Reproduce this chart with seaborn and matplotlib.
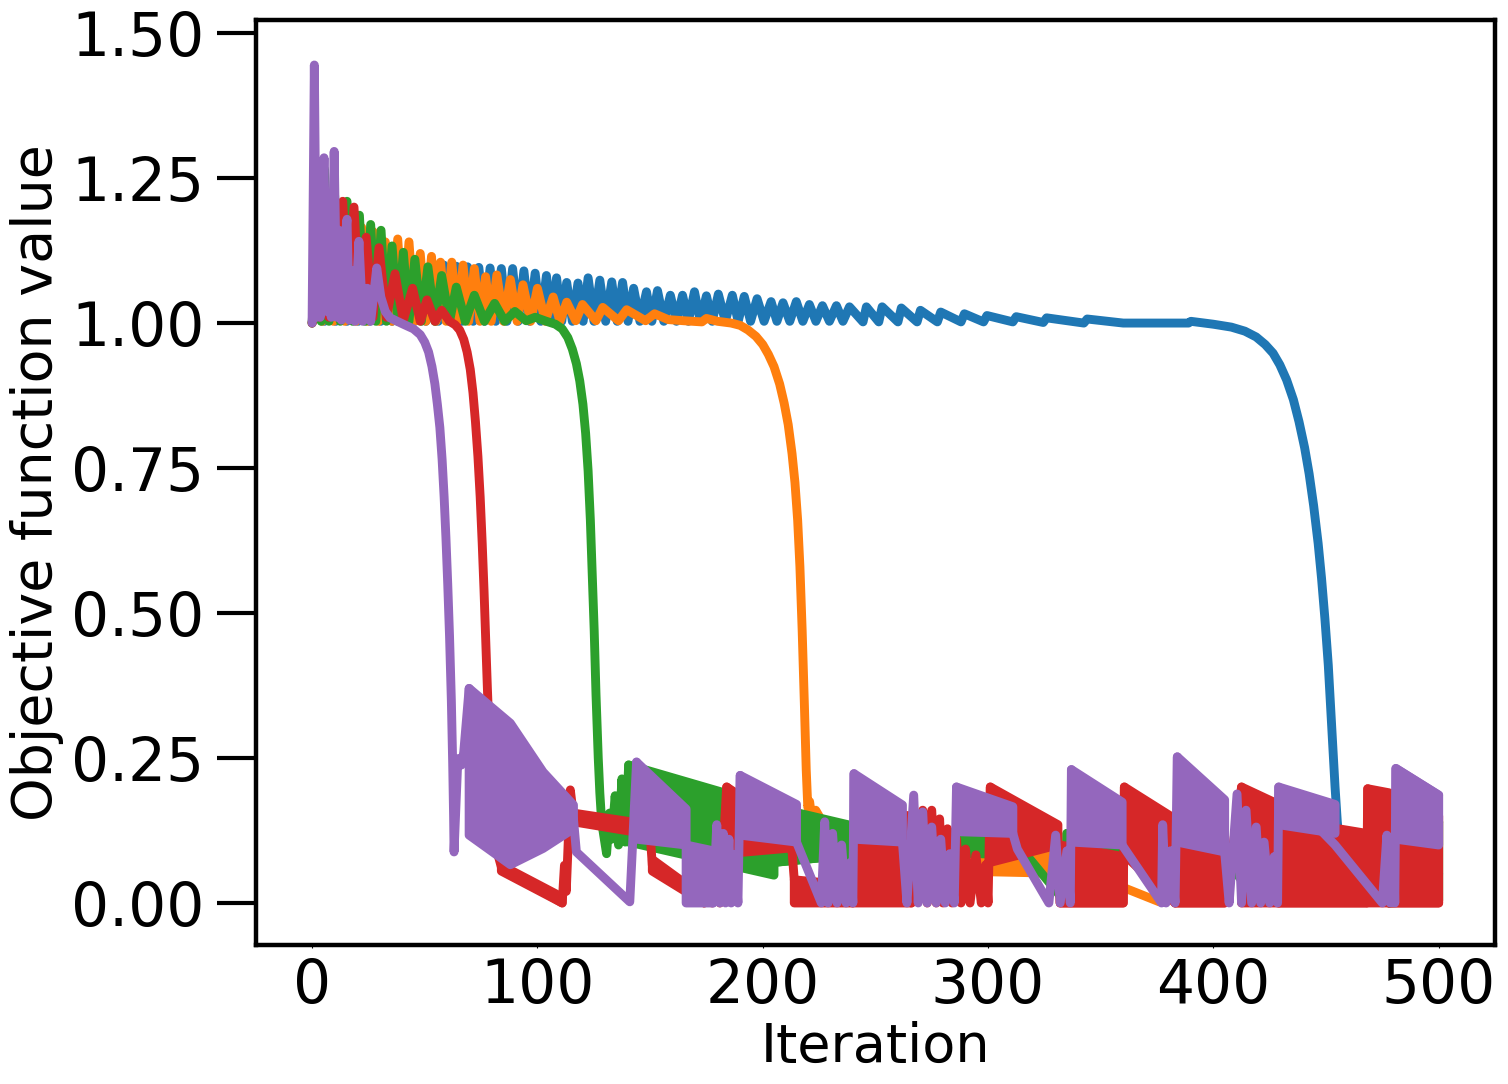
import matplotlib
matplotlib.use("Agg")
import matplotlib.pyplot as plt
import seaborn as sns
import pandas as pd

# ---- data (iteration, objective value) ----
# line vertices per run; the dense period-2 oscillation parts are kept as bands
blue_line = [
    (0, 1.0), (3, 1.10), (5.5, 1.003), (8, 1.115), (10.5, 1.003), (13, 1.115), (15.5, 1.003),
    (18, 1.112), (20.5, 1.003), (23, 1.11), (25.5, 1.003), (28, 1.108), (30.5, 1.003),
    (33, 1.106), (35.5, 1.003), (38, 1.105), (40.5, 1.003), (43, 1.104), (45.5, 1.003),
    (48, 1.103), (50.5, 1.003), (53, 1.102), (56, 1.003), (58.5, 1.10), (61.3, 1.003),
    (64, 1.098), (66.5, 1.003), (69, 1.097), (71.5, 1.003), (74, 1.096), (76.5, 1.003),
    (79, 1.095), (81.5, 1.003), (84, 1.094), (86.5, 1.003), (89, 1.094), (91.5, 1.003),
    (94, 1.09), (96.5, 1.003), (99, 1.086), (101.5, 1.003), (104, 1.082), (106.3, 1.003),
    (108.5, 1.078), (110.8, 1.003), (113, 1.07), (115.5, 1.003), (118, 1.069), (120.3, 1.003),
    (122.5, 1.078), (125.1, 1.003), (127.7, 1.074), (130.3, 1.003), (133, 1.071), (135.4, 1.003),
    (137.8, 1.07), (140.2, 1.003), (142.7, 1.06), (145.5, 1.003), (148.4, 1.054), (150.8, 1.003),
    (153.3, 1.056), (156.1, 1.003), (159, 1.048), (161.7, 1.003), (164.4, 1.048), (167, 1.003),
    (169.7, 1.054), (172.3, 1.003), (175, 1.047), (177.6, 1.003), (180.3, 1.05), (183.4, 1.003),
    (186.5, 1.048), (189.1, 1.003), (191.8, 1.046), (194.6, 1.003), (197.5, 1.042), (200.6, 1.003),
    (203.7, 1.037), (206.3, 1.003), (209, 1.035), (212, 1.003), (214.9, 1.037), (217.8, 1.003),
    (220.7, 1.032), (223.6, 1.003), (226.5, 1.03), (229.6, 1.003), (232.7, 1.03), (235.6, 1.003),
    (238.5, 1.028), (244.5, 1.002), (246, 1.028), (251.5, 1.002), (253, 1.028), (260, 1.002),
    (261.5, 1.026), (268.5, 1.002), (270, 1.022), (277.5, 1.002), (279, 1.019), (288, 1.002),
    (289.5, 1.016), (298, 1.002), (299.5, 1.013), (311, 1.002), (312.5, 1.011), (324.5, 1.001),
    (326, 1.009), (342.5, 1.0), (344, 1.007), (360, 1.0), (389, 1.0), (390, 1.003),
    (400, 0.998), (408, 0.993), (414, 0.986), (419, 0.976), (423, 0.963), (426.5, 0.948),
    (429.5, 0.928), (432.5, 0.902), (435.5, 0.868), (438, 0.83), (440.5, 0.785),
    (442.5, 0.74), (444.5, 0.685), (446.5, 0.62), (448, 0.56), (449.5, 0.49), (451, 0.41),
    (452, 0.34), (453, 0.27), (454, 0.2), (455, 0.14), (455.8, 0.105), (457, 0.05),
    (459, 0.113), (461, 0.045), (463, 0.09), (465, 0.04), (467, 0.075), (468, 0.03),
    (498, 0.02), (500, 0.05),
]
blue_bands = [([468, 498], [0.09, 0.085], [0.025, 0.02])]

orange_line = [
    (0, 1.0), (2.5, 1.06), (4.5, 1.003), (7, 1.14), (9.5, 1.003), (12, 1.17), (14.5, 1.003),
    (17, 1.175), (19.5, 1.003), (22, 1.165), (24.5, 1.003), (27, 1.158), (29.5, 1.003),
    (32.5, 1.14), (35.5, 1.003), (38, 1.145), (40.5, 1.003), (43, 1.14), (45.5, 1.003),
    (48, 1.12), (50.5, 1.003), (53, 1.115), (55, 1.003), (57, 1.105), (59.5, 1.003),
    (62, 1.105), (64.5, 1.003), (67, 1.10), (69.5, 1.003), (72, 1.094), (74.5, 1.003),
    (77, 1.08), (79.5, 1.003), (82, 1.083), (85, 1.003), (88, 1.075), (91, 1.003),
    (93.6, 1.066), (97, 1.003), (100, 1.06), (103.5, 1.003), (107, 1.045), (110, 1.003),
    (113, 1.036), (117, 1.004), (120, 1.032), (126, 1.004), (129, 1.027), (136, 1.004),
    (139.6, 1.023), (148, 1.004), (152, 1.016), (158, 1.006), (165, 1.004), (173, 1.002),
    (175, 1.008), (180, 1.003), (186, 1.0), (190, 0.996), (193.5, 0.988), (197, 0.977),
    (200, 0.963), (202.5, 0.946), (205, 0.925), (207.5, 0.895), (209.5, 0.862),
    (211.3, 0.825), (213, 0.775), (214.3, 0.725), (215.5, 0.66), (216.5, 0.58),
    (217.5, 0.47), (218.5, 0.34), (219.3, 0.23), (220, 0.165), (220.8, 0.175), (222, 0.14),
    (223.5, 0.16), (225, 0.15), (226.5, 0.13), (228, 0.13), (345, 0.05), (376, 0.002),
    (377, 0.1), (470, 0.048), (500, 0.005),
]
orange_bands = [
    ([228, 345], [0.13, 0.085], [0.06, 0.05]),
    ([377, 470], [0.10, 0.075], [0.058, 0.048]),
]

green_line = [
    (0, 1.0), (2.5, 1.15), (4, 1.003), (5.5, 1.265), (7.5, 1.003), (10, 1.22), (12.5, 1.003),
    (15.5, 1.21), (18, 1.003), (21, 1.186), (23.5, 1.003), (26, 1.17), (28.3, 1.003),
    (30.6, 1.16), (33, 1.003), (35.5, 1.133), (38, 1.003), (40.5, 1.122), (43, 1.003),
    (45.6, 1.11), (48.5, 1.003), (51.4, 1.097), (54.5, 1.003), (57.5, 1.082), (61, 1.003),
    (64, 1.062), (68, 1.003), (72, 1.048), (76.5, 1.003), (81, 1.034), (85.5, 1.003),
    (90, 1.02), (95, 1.004), (99, 1.01), (104, 1.003), (108, 0.998), (111, 0.99),
    (113.5, 0.975), (115.5, 0.955), (117.3, 0.93), (118.8, 0.9), (120.2, 0.86),
    (121.4, 0.81), (122.5, 0.745), (123.5, 0.66), (124.3, 0.57), (125.2, 0.47), (126, 0.36),
    (127, 0.25), (127.7, 0.19), (128.5, 0.14), (130.7, 0.085),
    (132, 0.155), (133, 0.11), (134.5, 0.185), (136, 0.10), (137.5, 0.214), (139, 0.105),
    (140.5, 0.238), (205, 0.07), (252, 0.088), (262, 0.012), (263, 0.125), (317, 0.083),
    (334, 0.003), (335, 0.12), (405, 0.075), (420, 0.005), (421, 0.10), (468, 0.08),
    (478, 0.0), (500, 0.14),
]
green_bands = [
    ([140.5, 205], [0.238, 0.165], [0.105, 0.048]),
    ([205, 252], [0.165, 0.122], [0.07, 0.088]),
    ([263, 317], [0.125, 0.115], [0.088, 0.083]),
    ([335, 405], [0.12, 0.10], [0.085, 0.075]),
    ([421, 468], [0.10, 0.095], [0.085, 0.08]),
    ([478, 500], [0.10, 0.14], [0.0, 0.005]),
]

red_line = [
    (0, 1.0), (2, 1.04), (3.5, 1.01), (5.5, 1.10), (7.5, 1.01), (9.5, 1.15), (11.5, 1.01),
    (13.6, 1.21), (16, 1.01), (18.6, 1.20), (21.3, 1.01), (24, 1.148), (27, 1.01),
    (29.7, 1.13), (33, 1.01), (36.8, 1.085), (40.5, 1.005), (44.6, 1.06), (48, 1.003),
    (51, 1.04), (54.5, 1.003), (57.5, 1.022), (61, 1.003), (63.5, 0.997), (65.5, 0.988),
    (67.3, 0.972), (68.8, 0.95), (70.2, 0.92), (71.4, 0.88), (72.5, 0.83), (73.6, 0.77),
    (74.6, 0.7), (75.5, 0.62), (76.3, 0.54), (77, 0.46), (77.8, 0.37), (78.7, 0.28),
    (79.6, 0.2), (80.6, 0.14), (82, 0.09), (84, 0.062), (111, 0.0),
    (112, 0.065), (112.8, 0.02), (114.6, 0.195), (116, 0.15), (150, 0.12), (151, 0.065),
    (174, 0.0), (176, 0.05), (177.5, 0.0), (179.5, 0.06), (181, 0.0), (184, 0.2),
    (213, 0.09), (214, 0.04), (240, 0.0), (241, 0.16), (266, 0.0), (271, 0.16), (273, 0.0),
    (275, 0.16), (277, 0.0), (278.5, 0.145), (280, 0.0), (282, 0.128), (284, 0.0),
    (286, 0.11), (288, 0.0), (290, 0.093), (292, 0.0), (294.6, 0.083), (297, 0.0),
    (299, 0.066), (300, 0.0), (301, 0.2), (331, 0.1), (332, 0.0), (360, 0.0), (360.5, 0.2),
    (383, 0.0), (405, 0.0), (412.5, 0.2), (429, 0.0), (468, 0.0), (468.5, 0.197),
    (478, 0.0), (500, 0.0),
]
red_bands = [
    ([84, 111], [0.065, 0.01], [0.055, 0.0]),
    ([116, 150], [0.155, 0.135], [0.14, 0.118]),
    ([151, 174], [0.075, 0.01], [0.055, 0.0]),
    ([184, 213], [0.2, 0.125], [0.085, 0.095]),
    ([214, 240], [0.04, 0.03], [0.0, 0.0]),
    ([241, 266], [0.16, 0.15], [0.0, 0.0]),
    ([301, 331], [0.2, 0.135], [0.07, 0.1]),
    ([332, 360], [0.1, 0.08], [0.0, 0.0]),
    ([360.5, 383], [0.2, 0.145], [0.083, 0.0]),
    ([383, 405], [0.11, 0.10], [0.0, 0.0]),
    ([412.5, 429], [0.2, 0.17], [0.0, 0.0]),
    ([429, 468], [0.145, 0.12], [0.0, 0.0]),
    ([468.5, 478], [0.197, 0.19], [0.0, 0.0]),
    ([478, 500], [0.186, 0.15], [0.0, 0.0]),
]

purple_line = [
    (0, 1.0), (1, 1.445), (2, 1.01), (2.8, 1.22), (3.6, 1.01), (5.3, 1.285), (6.5, 1.02),
    (7.5, 1.2), (8.5, 1.01), (9.8, 1.296), (11, 1.01), (12, 1.16), (13, 1.005), (14, 1.12),
    (15.5, 1.179), (16.5, 1.005), (17.8, 1.09), (19, 1.003), (20.8, 1.141), (22.5, 1.003),
    (24.5, 1.06), (26, 1.003), (28.7, 1.095),
    (30.5, 1.045), (32.5, 1.02), (34.6, 1.009), (40.5, 0.998), (45, 0.99), (48, 0.98),
    (50, 0.967), (51.7, 0.95), (53.2, 0.925), (54.5, 0.895), (55.6, 0.86), (56.7, 0.82),
    (57.7, 0.765), (58.6, 0.7), (59.4, 0.63), (60.2, 0.55), (61, 0.46), (61.8, 0.35),
    (62.4, 0.24), (62.8, 0.15), (63, 0.088), (64.7, 0.249),
    (66.3, 0.238), (67.3, 0.26), (69.7, 0.37), (116, 0.145), (117.3, 0.088), (141, 0.002),
    (144, 0.243), (166, 0.1), (178, 0.0), (179.6, 0.135), (181, 0.0), (182.5, 0.12),
    (183.5, 0.0), (185, 0.11), (186, 0.0), (187.5, 0.083), (189, 0.0), (190, 0.22),
    (215, 0.105), (226, 0.0), (227.5, 0.14), (229, 0.0), (231, 0.12), (233, 0.0), (235, 0.10),
    (237, 0.0), (239, 0.07), (240, 0.0), (240.5, 0.223), (262, 0.105), (264, 0.0),
    (267, 0.186), (269, 0.0), (271, 0.157), (273, 0.0), (275, 0.131), (277, 0.0),
    (279, 0.11), (281, 0.0), (283, 0.085), (285, 0.0), (286, 0.2), (311, 0.12), (313, 0.093),
    (327, 0.0), (330, 0.117), (332, 0.0), (335, 0.09), (336.5, 0.0), (337, 0.23),
    (359.5, 0.1), (377, 0.0), (377.5, 0.135), (379, 0.0), (381, 0.09), (383, 0.0),
    (384, 0.252), (405, 0.088), (407, 0.0), (410.5, 0.188), (412.5, 0.0), (414.5, 0.16),
    (417, 0.0), (419, 0.131), (421, 0.0), (422.5, 0.105), (425, 0.0), (427, 0.08),
    (428.5, 0.0), (429, 0.2), (454, 0.1), (475, 0.0), (477, 0.117), (478.5, 0.0),
    (480, 0.09), (480.5, 0.0), (481, 0.232), (500, 0.186),
]
purple_bands = [
    ([69.7, 88, 102.5, 116], [0.37, 0.31, 0.226, 0.169], [0.117, 0.066, 0.094, 0.128]),
    ([144, 166], [0.243, 0.162], [0.11, 0.10]),
    ([166, 178], [0.10, 0.09], [0.0, 0.0]),
    ([190, 215], [0.22, 0.17], [0.117, 0.105]),
    ([240.5, 262], [0.223, 0.169], [0.11, 0.105]),
    ([286, 311], [0.2, 0.166], [0.123, 0.12]),
    ([337, 359.5], [0.23, 0.174], [0.105, 0.10]),
    ([384, 405], [0.252, 0.178], [0.105, 0.088]),
    ([429, 454], [0.2, 0.17], [0.135, 0.12]),
    ([481, 500], [0.232, 0.186], [0.11, 0.10]),
]

series = [
    ("run 1", blue_line, blue_bands),
    ("run 2", orange_line, orange_bands),
    ("run 3", green_line, green_bands),
    ("run 4", red_line, red_bands),
    ("run 5", purple_line, purple_bands),
]
colors = sns.color_palette("tab10", 5)

x_ticks = [0, 100, 200, 300, 400, 500]
y_ticks = [0.0, 0.25, 0.5, 0.75, 1.0, 1.25, 1.5]

LW = 6.4


def plot_runs(save_path):
    sns.set_style("ticks", rc={"text.color": "black", "axes.labelcolor": "black",
                               "xtick.color": "black", "ytick.color": "black",
                               "axes.edgecolor": "black"})
    fig = plt.figure(figsize=(15.08, 10.84), dpi=100)
    ax = fig.add_axes([0.1696, 0.1282, 0.8218, 0.8533])

    for i, (name, pts, bands) in enumerate(series):
        df = pd.DataFrame(pts, columns=["Iteration", "Value"])
        z = 2 + i
        sns.lineplot(data=df, x="Iteration", y="Value", sort=False, estimator=None,
                     color=colors[i], linewidth=LW, solid_capstyle="round",
                     solid_joinstyle="round", ax=ax, zorder=z)
        for bx, hi, lo in bands:
            px = list(bx) + list(bx)[::-1]
            py = list(hi) + list(lo)[::-1]
            ax.fill(px, py, facecolor=colors[i], edgecolor=colors[i], linewidth=LW,
                    joinstyle="round", zorder=z)

    ax.set_xlim(-25, 525)
    ax.set_ylim(-0.0725, 1.5225)
    ax.set_xticks(x_ticks)
    ax.set_yticks(y_ticks)
    ax.set_xticklabels([str(t) for t in x_ticks])
    ax.set_yticklabels([f"{t:.2f}" for t in y_ticks])

    ax.tick_params(axis="y", length=28, width=3, labelsize=43, pad=9)
    ax.tick_params(axis="x", length=2.5, width=0.8, labelsize=43, pad=6)
    for s in ax.spines.values():
        s.set_linewidth(3.2)

    ax.set_xlabel("Iteration", fontsize=39, labelpad=4)
    ax.set_ylabel("Objective function value", fontsize=40, labelpad=5)

    fig.savefig(save_path, dpi=100)
    plt.close(fig)


if __name__ == "__main__":
    plot_runs("out.png")
